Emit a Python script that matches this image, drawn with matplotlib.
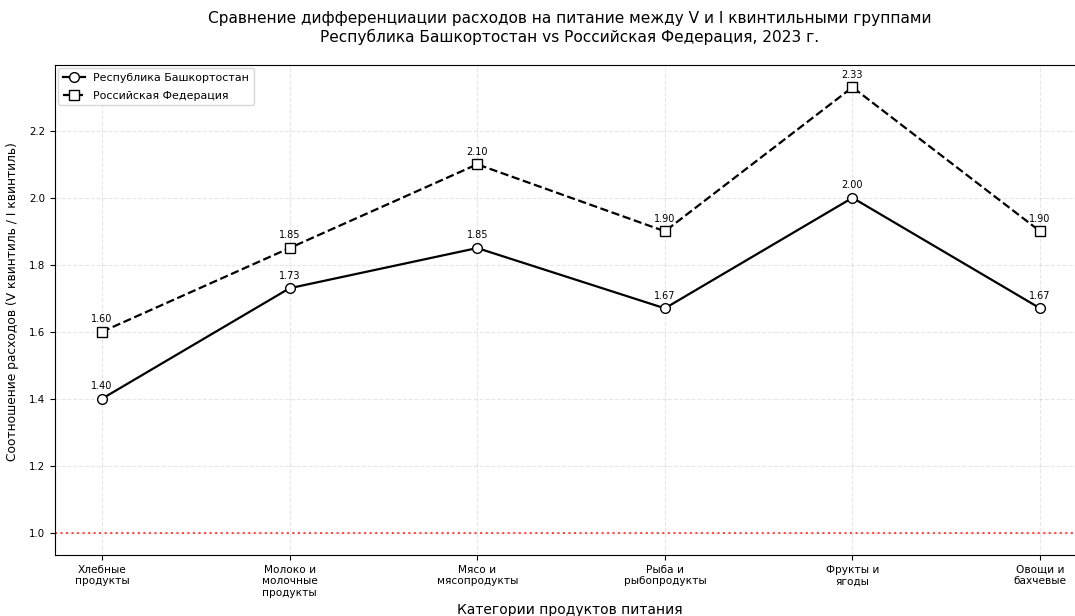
import matplotlib
matplotlib.use("Agg")
import matplotlib.pyplot as plt
import numpy as np

categories = [
    "Хлебные\nпродукты",
    "Молоко и\nмолочные\nпродукты",
    "Мясо и\nмясопродукты",
    "Рыба и\nрыбопродукты",
    "Фрукты и\nягоды",
    "Овощи и\nбахчевые",
]
bashkortostan = [1.40, 1.73, 1.85, 1.67, 2.00, 1.67]
russia = [1.60, 1.85, 2.10, 1.90, 2.33, 1.90]

x = np.arange(len(categories))

fig = plt.figure(figsize=(10.75, 6.16), dpi=100)
# right spine sits just past the picture edge, as in the reference crop
ax = fig.add_axes([0.0512, 0.099, 0.96, 0.7955])

ax.plot(x, bashkortostan, color="black", linestyle="-", linewidth=1.6,
        marker="o", markersize=7, markerfacecolor="white", markeredgecolor="black",
        label="Республика Башкортостан")
ax.plot(x, russia, color="black", linestyle="--", linewidth=1.6,
        marker="s", markersize=7, markerfacecolor="white", markeredgecolor="black",
        label="Российская Федерация")

for xi, v in zip(x, bashkortostan):
    ax.annotate(f"{v:.2f}", (xi, v), textcoords="offset points", xytext=(0, 7),
                ha="center", fontsize=7)
for xi, v in zip(x, russia):
    ax.annotate(f"{v:.2f}", (xi, v), textcoords="offset points", xytext=(0, 7),
                ha="center", fontsize=7)

ax.axhline(1.0, color="red", linestyle=":", linewidth=1.5, alpha=0.7)

ax.set_xticks(x)
ax.set_xticklabels(categories, fontsize=7.6)
ax.tick_params(axis="y", labelsize=7.4)
ax.grid(True, linestyle="--", alpha=0.3)
ax.legend(loc="upper left", fontsize=7.9, borderaxespad=0.3, labelspacing=0.75)

# labels and title placed in figure coords to match reference
fig.text(570 / 1075, 1 - 603 / 616, "Категории продуктов питания",
         ha="center", va="top", fontsize=10)
fig.text(13 / 1075, 1 - 302 / 616, "Соотношение расходов (V квинтиль / I квинтиль)",
         ha="center", va="center", rotation=90, fontsize=8.8)
fig.text(570 / 1075, 1 - 11 / 616,
         "Сравнение дифференциации расходов на питание между V и I квинтильными группами\n"
         "Республика Башкортостан vs Российская Федерация, 2023 г.",
         ha="center", va="top", fontsize=11.1)

fig.savefig("out.png", dpi=100)
